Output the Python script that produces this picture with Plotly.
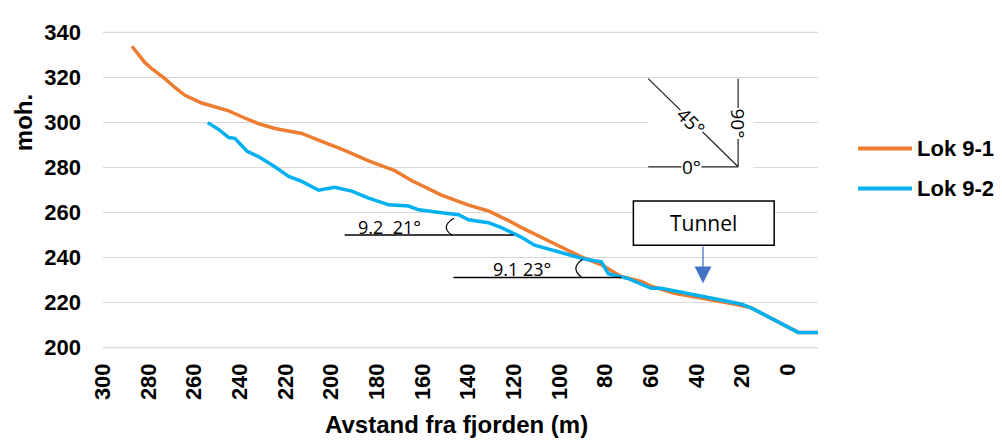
import plotly.graph_objects as go

# Lok 9-1 profile (distance from fjord in m, elevation in moh.)
lok91_x = [287.3, 281.6, 278.6, 272.9, 268.5, 264.1, 256.7, 249.2, 244.9, 239.2,
           231.7, 224.7, 212.9, 204.2, 195.4, 183.6, 176.6, 172.2, 164.8, 151.7,
           139.8, 131.1, 122.3, 116.6, 103.5, 90.4, 81.6, 72.9, 64.1, 59.8,
           49.7, 34.8, 23.4, 16.0, 2.9, -4.6, -13.3]
lok91_y = [333.8, 326.5, 323.8, 319.4, 315.5, 312.0, 308.6, 306.4, 305.1, 302.5,
           299.4, 297.3, 295.1, 291.6, 288.1, 282.9, 280.3, 278.6, 274.2, 267.7,
           263.3, 260.7, 256.4, 253.3, 246.8, 240.3, 236.8, 231.6, 229.4, 227.3,
           224.2, 221.6, 219.4, 217.7, 210.7, 206.8, 206.8]

# Lok 9-2 profile
lok92_x = [254.1, 249.2, 244.9, 242.2, 237.0, 231.7, 224.7, 218.6, 212.9, 205.5,
           198.5, 191.0, 183.6, 174.8, 166.1, 161.7, 151.7, 144.2, 139.8, 131.1,
           125.4, 119.7, 116.6, 110.9, 96.1, 89.1, 81.6, 78.6, 69.8, 59.8,
           55.4, 42.3, 20.4, 16.0, 2.9, -4.6, -13.3]
lok92_y = [299.9, 296.8, 293.3, 292.9, 287.3, 284.7, 280.3, 276.0, 273.8, 269.9,
           271.2, 269.5, 266.4, 263.4, 262.9, 261.2, 259.9, 259.0, 256.8, 255.5,
           253.3, 250.3, 249.0, 245.5, 241.6, 239.4, 238.1, 232.9, 230.7, 226.4,
           226.4, 223.8, 219.4, 217.7, 210.7, 206.8, 206.8]

x_ticks = list(range(300, -1, -20))
y_ticks = list(range(200, 341, 20))

ORANGE = "#ED7D31"
BLUE = "#00B0F0"
GRID = "#D9D9D9"
AX_FONT = dict(family="Arial, Liberation Sans", size=22, color="#000000")
NOTE_FONT = "Open Sans, Lato, sans-serif"

fig = go.Figure()
fig.add_trace(go.Scatter(x=lok91_x, y=lok91_y, mode="lines", name="Lok 9-1",
                         line=dict(color=ORANGE, width=3.5), showlegend=False))
fig.add_trace(go.Scatter(x=lok92_x, y=lok92_y, mode="lines", name="Lok 9-2",
                         line=dict(color=BLUE, width=3.5), showlegend=False))

shapes = []
annotations = []

# make sure the outer gridlines (200 and 340) are drawn
for yv in (y_ticks[0], y_ticks[-1]):
    shapes.append(dict(type="line", xref="paper", x0=0, x1=1, y0=yv, y1=yv,
                       line=dict(color=GRID, width=1.2), layer="below"))

# slope reference lines with angle arcs
shapes.append(dict(type="line", x0=194.1, x1=120.1, y0=250, y1=250,
                   line=dict(color="black", width=1.5)))
shapes.append(dict(type="path", path="M 146.2,257.5 Q 152.5,253.8 147.1,250",
                   line=dict(color="black", width=1.2)))
shapes.append(dict(type="line", x0=146.4, x1=72.9, y0=231.2, y1=231.2,
                   line=dict(color="black", width=1.5)))
shapes.append(dict(type="path", path="M 89.8,239.3 Q 95.5,235.4 90.4,231.4",
                   line=dict(color="black", width=1.2)))
annotations.append(dict(x=174.6, y=253.4, text="9.2  21°", showarrow=False,
                        font=dict(family=NOTE_FONT, size=18, color="black")))
annotations.append(dict(x=116.2, y=234.8, text="9.1 23°", showarrow=False,
                        font=dict(family=NOTE_FONT, size=18, color="black")))

# protractor legend (white patch hides the gridlines)
shapes.append(dict(type="rect", x0=61.1, x1=15.1, y0=319.3, y1=273.8,
                   fillcolor="white", line=dict(width=0), layer="above"))
for x0, y0, x1, y1 in [(61.1, 319.4, 21.7, 280.3), (21.7, 319.4, 21.7, 280.3),
                       (61.1, 280.3, 21.7, 280.3)]:
    shapes.append(dict(type="line", x0=x0, y0=y0, x1=x1, y1=y1,
                       line=dict(color="#222222", width=1.2), layer="above"))
annotations.append(dict(x=42.2, y=280.3, text="0°", showarrow=False, bgcolor="white",
                        borderpad=0, font=dict(family=NOTE_FONT, size=19, color="black")))
annotations.append(dict(x=42.2, y=300.3, text="45°", showarrow=False, textangle=45,
                        bgcolor="white", borderpad=0,
                        font=dict(family=NOTE_FONT, size=19, color="black")))
annotations.append(dict(x=21.7, y=299.5, text="90°", showarrow=False, textangle=90,
                        bgcolor="white", borderpad=0,
                        font=dict(family=NOTE_FONT, size=19, color="black")))

# Tunnel box and arrow
shapes.append(dict(type="rect", x0=67.6, x1=5.9, y0=265.1, y1=245.5,
                   fillcolor="white", line=dict(color="black", width=1.5), layer="above"))
annotations.append(dict(x=36.7, y=255.3, text="Tunnel", showarrow=False,
                        font=dict(family=NOTE_FONT, size=21, color="black")))
annotations.append(dict(x=37.1, y=228.6, ax=37.1, ay=245.5, axref="x", ayref="y",
                        text="", showarrow=True, arrowhead=2, arrowsize=2.6,
                        arrowwidth=1.3, arrowcolor="#4472C4"))

# legend drawn by hand to match the long line samples
for name, color, yp in [("Lok 9-1", ORANGE, 0.63), ("Lok 9-2", BLUE, 0.505)]:
    shapes.append(dict(type="line", xref="paper", yref="paper", x0=1.056, x1=1.1315,
                       y0=yp, y1=yp, line=dict(color=color, width=4)))
    annotations.append(dict(xref="paper", yref="paper", x=1.1357, y=yp, text=f"<b>{name}</b>",
                            xanchor="left", showarrow=False,
                            font=dict(family="Arial, Liberation Sans", size=22, color="black")))

# axis titles
annotations.append(dict(xref="paper", yref="paper", x=-0.1119, y=0.712, text="<b>moh.</b>",
                        textangle=-90, xanchor="center", yanchor="middle", showarrow=False,
                        font=dict(family="Arial, Liberation Sans", size=24, color="black")))
annotations.append(dict(xref="paper", yref="paper", x=0.495, y=-0.232,
                        text="<b>Avstand fra fjorden (m)</b>", xanchor="center",
                        yanchor="middle", showarrow=False,
                        font=dict(family="Arial, Liberation Sans", size=24, color="black")))

# page body has an 8px margin, so the figure is shrunk by that amount
fig.update_layout(
    width=994, height=432,
    margin=dict(l=95, r=184, t=16, b=90),
    paper_bgcolor="white", plot_bgcolor="white",
    shapes=shapes, annotations=annotations,
    xaxis=dict(range=[300, -13.3], tickvals=x_ticks, ticktext=[f"<b>{v}</b>" for v in x_ticks],
               tickangle=-90, tickfont=AX_FONT, showgrid=False, zeroline=False,
               showline=False, ticks="", ticklabelstandoff=8),
    yaxis=dict(range=[199, 341], tickvals=y_ticks, ticktext=[f"<b>{v}</b>" for v in y_ticks],
               tickfont=AX_FONT, showgrid=True, gridcolor=GRID, gridwidth=1.2,
               zeroline=False, showline=False, ticks="", ticklabelstandoff=21),
)

fig.write_html("out.html")
